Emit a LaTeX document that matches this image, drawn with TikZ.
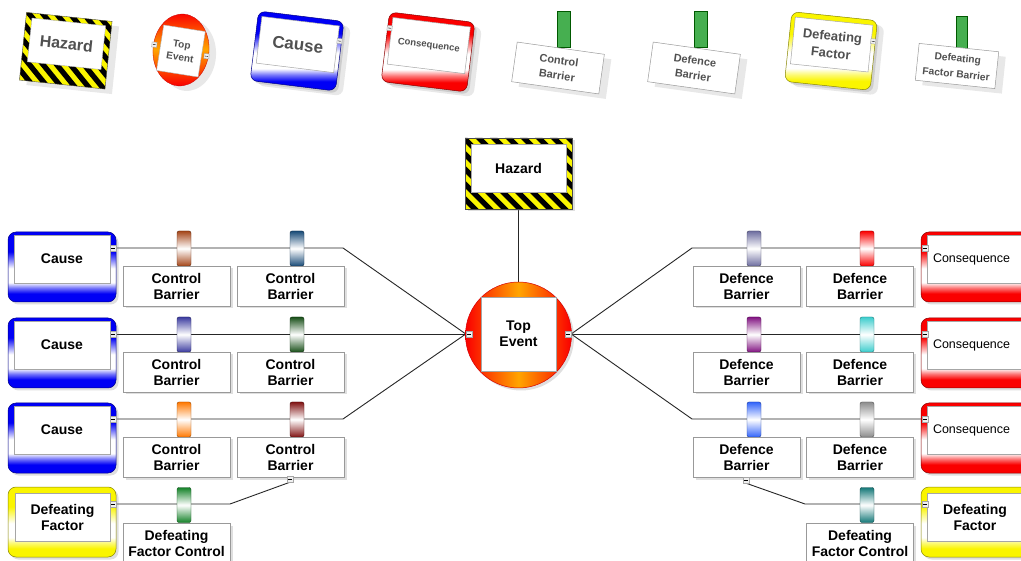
\documentclass[tikz,border=0pt]{standalone}
\usepackage{fontspec}
\setmainfont{Liberation Sans}
\usetikzlibrary{shadows,backgrounds,shapes.geometric}
\definecolor{cB}{RGB}{0,0,245}
\definecolor{cR}{RGB}{250,0,0}
\definecolor{cY}{RGB}{250,245,0}
\definecolor{cO}{RGB}{255,165,0}
\definecolor{txtg}{RGB}{80,80,80}
\definecolor{pegG}{RGB}{70,175,80}
\colorlet{cBl}{cB!55!white}
\colorlet{cRl}{cR!55!white}
\colorlet{cYl}{cY!55!white}
\pgfdeclareverticalshading{shB}{100bp}{color(0bp)=(cB); color(25bp)=(cB); color(31bp)=(cB); color(35bp)=(cBl); color(39bp)=(white); color(49bp)=(white); color(61bp)=(cB); color(75bp)=(cB); color(100bp)=(cB)}
\pgfdeclareverticalshading{shR}{100bp}{color(0bp)=(cR); color(25bp)=(cR); color(31bp)=(cR); color(35bp)=(cRl); color(39bp)=(white); color(49bp)=(white); color(61bp)=(cR); color(75bp)=(cR); color(100bp)=(cR)}
\pgfdeclareverticalshading{shY}{100bp}{color(0bp)=(cY); color(25bp)=(cY); color(31bp)=(cY); color(35bp)=(cYl); color(39bp)=(white); color(49bp)=(white); color(61bp)=(cY); color(75bp)=(cY); color(100bp)=(cY)}
% peg colours
\definecolor{p11}{RGB}{165,70,25}
\definecolor{p12}{RGB}{25,75,120}
\definecolor{p21}{RGB}{60,60,160}
\definecolor{p22}{RGB}{25,80,25}
\definecolor{p31}{RGB}{255,120,0}
\definecolor{p32}{RGB}{130,20,20}
\definecolor{q11}{RGB}{110,110,160}
\definecolor{q12}{RGB}{250,0,0}
\definecolor{q21}{RGB}{130,20,130}
\definecolor{q22}{RGB}{60,205,205}
\definecolor{q31}{RGB}{50,100,250}
\definecolor{q32}{RGB}{140,140,140}
\definecolor{d1}{RGB}{20,130,40}
\definecolor{d2}{RGB}{20,120,120}
\tikzset{
  shd/.style={drop shadow={shadow xshift=2.5pt,shadow yshift=-2.5pt,opacity=.25}},
  lshd/.style={drop shadow={shadow xshift=7pt,shadow yshift=-5pt,opacity=.18}},
  pegbox/.style={rectangle, rounded corners=2pt, minimum width=14pt, minimum height=35pt, inner sep=0pt,
    draw=#1!60!black, line width=.4pt, top color=#1, bottom color=#1, middle color=white},
  barbox/.style={rectangle, draw=gray!80, fill=white, line width=.6pt, minimum width=107pt, minimum height=40pt,
    inner sep=0pt, align=center, font=\fontsize{14}{16}\selectfont\bfseries, shd},
  outframe/.style={rectangle, rounded corners=8pt, minimum width=108pt, minimum height=70pt, inner sep=0pt,
    shade, shading=sh#1, draw=c#1!55!black, line width=.5pt, shd},
  inbox/.style={rectangle, fill=white, draw=gray!70, line width=.5pt, minimum width=96pt, minimum height=48pt,
    inner sep=0pt, align=center, font=\fontsize{14}{16}\selectfont\bfseries},
  hdl/.style={rectangle, minimum size=6pt, inner sep=0pt, fill=gray!12, draw=gray!70, line width=.4pt,
    path picture={\draw[black, line width=.4pt] ([xshift=-1.6pt]path picture bounding box.center) -- ([xshift=1.6pt]path picture bounding box.center);}},
  conn/.style={line width=.9pt, black!85},
  lpeg/.style={rectangle, minimum width=13pt, minimum height=36pt, inner sep=0pt, fill=pegG, draw=green!35!black, line width=.4pt},
  lbar/.style={rectangle, draw=gray!80, fill=white, line width=.5pt, minimum width=88pt, minimum height=40pt,
    inner sep=0pt, align=center, text=txtg, font=\fontsize{11}{15}\selectfont\bfseries, lshd},
}
\begin{document}
\begin{tikzpicture}[x=1pt,y=-1pt]
\useasboundingbox (0,0) rectangle (1021,561);
\clip (0,0) rectangle (1021,561);

% ================= LEGEND =================
% Hazard
\begin{scope}[shift={(65.75,50.75)}, rotate=-6, transform shape]
  \node[rectangle, minimum width=86pt, minimum height=68pt, inner sep=0pt, fill=cY, lshd] (lhz) at (0,0) {};
  \begin{scope}
    \clip (-43,-34) rectangle (43,34);
    \foreach \i in {0,...,11} \fill[black] (-120+\i*15,-34) -- ++(7.5,0) -- ++(68,68) -- ++(-7.5,0) -- cycle;
  \end{scope}
  \draw[gray!60!black, line width=.4pt] (-43,-34) rectangle (43,34);
  \node[fill=white, draw=gray!60, minimum width=74pt, minimum height=44pt, inner sep=0pt, text=txtg,
        font=\fontsize{16}{18}\selectfont\bfseries] (lhzi) at (0,-7) {Hazard};
\end{scope}
% Top event
\begin{scope}[shift={(181,50)}, rotate=-5, transform shape]
  \node[ellipse, minimum width=56pt, minimum height=72pt, inner sep=0pt, top color=cR, bottom color=cR, middle color=cO,
        draw=cR!80!black, line width=.3pt, lshd] (lte) at (0,0) {};
  \node[fill=white, draw=gray!60, minimum width=42pt, minimum height=46pt, inner sep=0pt, text=txtg, align=center,
        font=\fontsize{10}{12.5}\selectfont\bfseries, rotate=-4] (ltei) at (0,1) {Top\\Event};
  \node[hdl, minimum size=5pt] (lteL) at (-27,-3) {};
  \node[hdl, minimum size=5pt] (lteR) at (26,4) {};
\end{scope}
% Cause
\begin{scope}[shift={(297,51)}, rotate=-7, transform shape]
  \node[outframe=B, minimum width=86pt, minimum height=70pt, rounded corners=7pt, lshd] (lc) at (0,0) {};
  \node[inbox, minimum width=78pt, minimum height=47pt, text=txtg, font=\fontsize{17}{19}\selectfont\bfseries] (lci) at (0,-6.5) {Cause};
  \node[hdl, minimum size=5pt] (lch) at (41,-15) {};
\end{scope}
% Consequence
\begin{scope}[shift={(428,52)}, rotate=-7, transform shape]
  \node[outframe=R, minimum width=86pt, minimum height=70pt, rounded corners=7pt, lshd] (lk) at (0,0) {};
  \node[inbox, minimum width=78pt, minimum height=47pt, text=txtg, font=\fontsize{9.5}{11}\selectfont\bfseries] (lki) at (0,-6.5) {Consequence};
  \node[hdl, minimum size=5pt] (lkh) at (-41,-19) {};
\end{scope}
% Control barrier
\node[lpeg] (lcp) at (563.5,29) {};
\begin{scope}[shift={(558,68)}, rotate=-8, transform shape]
  \node[lbar] (lcb) at (0,0) {Control\\Barrier};
\end{scope}
% Defence barrier
\node[lpeg] (ldp) at (701,29) {};
\begin{scope}[shift={(694,68)}, rotate=-8, transform shape]
  \node[lbar] (ldb) at (0,0) {Defence\\Barrier};
\end{scope}
% Defeating factor
\begin{scope}[shift={(831,51)}, rotate=-6, transform shape]
  \node[outframe=Y, minimum width=86pt, minimum height=70pt, rounded corners=7pt, lshd] (lf) at (0,0) {};
  \node[inbox, minimum width=78pt, minimum height=47pt, text=txtg, font=\fontsize{13}{17.5}\selectfont\bfseries] (lfi) at (0,-6.5) {Defeating\\Factor};
  \node[hdl, minimum size=5pt] (lfh) at (41,-14) {};
\end{scope}
% Defeating factor barrier
\node[lpeg, minimum width=11pt, minimum height=33pt] (lfp) at (961.5,32.5) {};
\begin{scope}[shift={(957,66)}, rotate=-6, transform shape]
  \node[lbar, minimum width=80pt, minimum height=37pt, font=\fontsize{10.2}{16}\selectfont\bfseries] (lfb) at (0,0) {Defeating\\Factor Barrier};
\end{scope}

% ================= MAIN DIAGRAM =================
% Hazard
\node[rectangle, minimum width=107pt, minimum height=71pt, inner sep=0pt, fill=cY, shd] (hz) at (518.5,173.5) {};
\begin{scope}
  \clip (465,138) rectangle (572,209);
  \foreach \i in {0,...,13} \fill[black] (385+\i*15,138) -- ++(7.5,0) -- ++(71,71) -- ++(-7.5,0) -- cycle;
\end{scope}
\draw[gray!60!black, line width=.5pt] (465,138) rectangle (572,209);
\node[inbox, minimum width=95pt, minimum height=48pt] (hzi) at (518.5,168) {Hazard};

% Top event
\node[circle, minimum size=106pt, inner sep=0pt, left color=cR, right color=cR, middle color=cO,
      draw=cR!85!black, line width=.5pt, shd] (te) at (518.5,335) {};
\node[inbox, minimum width=75pt, minimum height=74pt] (tei) at (518.5,334) {Top\\Event};
\node[hdl] (teL) at (469,334) {};
\node[hdl] (teR) at (568,334) {};

% Rows
\foreach \r/\y/\pa/\pb/\qa/\qb in {1/248/p11/p12/q11/q12, 2/334/p21/p22/q21/q22, 3/419/p31/p32/q31/q32}{
  % left
  \node[outframe=B] (c\r) at (62,\y+19) {};
  \node[inbox] (ci\r) at (62,\y+11) {Cause};
  \node[hdl] (ch\r) at (113,\y) {};
  \node[pegbox=\pa] (pa\r) at (184,\y+0.5) {};
  \node[barbox] (ba\r) at (176.5,\y+38) {Control\\Barrier};
  \node[pegbox=\pb] (pb\r) at (297,\y+0.5) {};
  \node[barbox] (bb\r) at (290.5,\y+38) {Control\\Barrier};
  % right
  \node[pegbox=\qa] (qa\r) at (754,\y+0.5) {};
  \node[barbox] (da\r) at (746.5,\y+38) {Defence\\Barrier};
  \node[pegbox=\qb] (qb\r) at (867,\y+0.5) {};
  \node[barbox] (db\r) at (860,\y+38) {Defence\\Barrier};
  \node[outframe=R] (k\r) at (975,\y+19) {};
  \node[inbox, text width=84pt, align=left, font=\fontsize{12.5}{15}\selectfont] (ki\r) at (975,\y+11) {Consequence};
  \node[hdl] (kh\r) at (925,\y) {};
}

% Defeating factors
\node[outframe=Y] (f1) at (62,522) {};
\node[inbox, minimum width=95pt] (fi1) at (62.5,517) {Defeating\\Factor};
\node[hdl] (fh1) at (113,504) {};
\node[pegbox=d1] (fpa) at (184,505) {};
\node[barbox] (fba) at (176.5,543) {Defeating\\Factor Control};
\node[hdl] (bh3) at (290,479) {};

\node[outframe=Y] (f2) at (975,522) {};
\node[inbox] (fi2) at (975,517) {Defeating\\Factor};
\node[hdl] (fh2) at (925,504) {};
\node[pegbox=d2] (fpb) at (867,505) {};
\node[barbox] (fbb) at (860,543) {Defeating\\Factor Control};
\node[hdl] (dh3) at (746,480) {};

% kink coordinates
\coordinate (kl1) at (343,248);
\coordinate (kl3) at (343,419);
\coordinate (kr1) at (692,248);
\coordinate (kr3) at (692,419);
\coordinate (kf1) at (230,504);
\coordinate (kf2) at (805,504);

\begin{scope}[on background layer]
  \fill[white] (0,0) rectangle (1021,561);
  \draw[conn] (hz.south) -- (te.north);
  \draw[conn] (ch1.east) -- (kl1) -- (teL.west);
  \draw[conn] (ch2.east) -- (teL.west);
  \draw[conn] (ch3.east) -- (kl3) -- (teL.west);
  \draw[conn] (teR.east) -- (kr1) -- (kh1.west);
  \draw[conn] (teR.east) -- (kh2.west);
  \draw[conn] (teR.east) -- (kr3) -- (kh3.west);
  \draw[conn] (fh1.east) -- (kf1) -- (bh3.south);
  \draw[conn] (dh3.south) -- (kf2) -- (fh2.west);
\end{scope}
\end{tikzpicture}
\end{document}
